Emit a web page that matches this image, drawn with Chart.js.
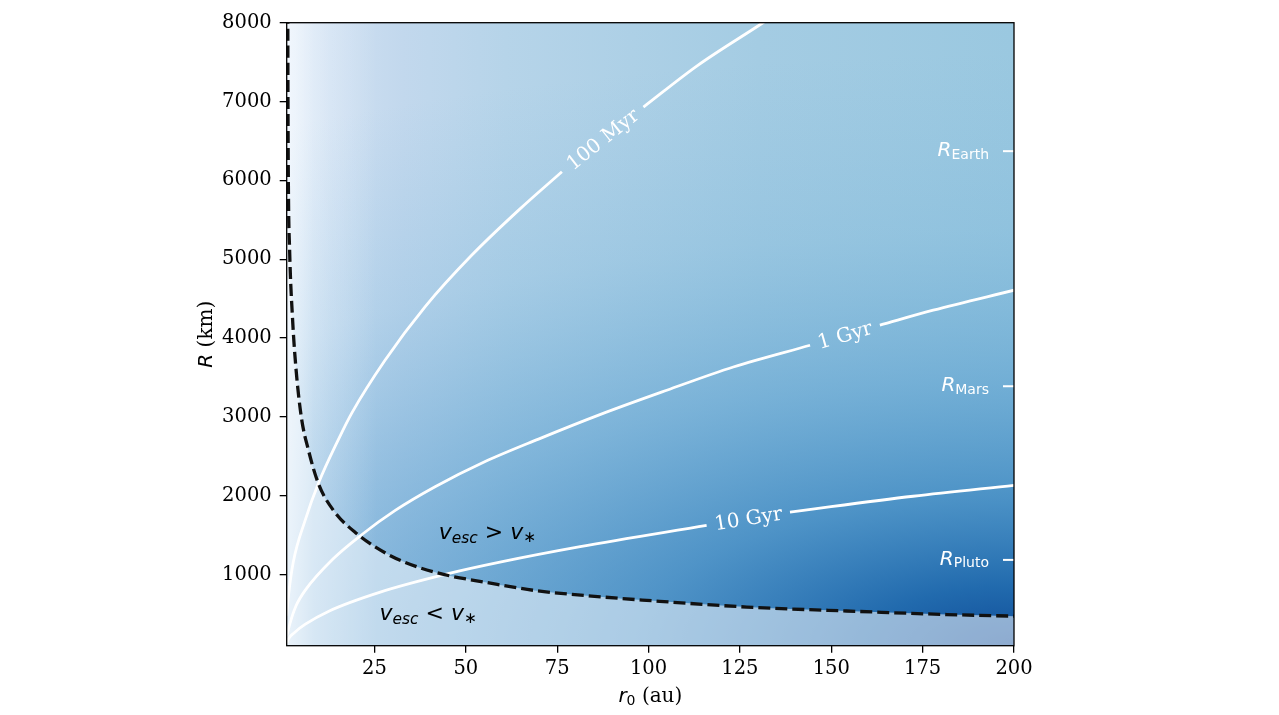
<!DOCTYPE html>
<html>
<head>
<meta charset="utf-8">
<script src="https://cdn.jsdelivr.net/npm/chart.js@4.4.1/dist/chart.umd.min.js"></script>
<style>
  html, body { margin: 0; padding: 0; background: #fff; }
  #wrap { width: 1279px; height: 715px; }
</style>
</head>
<body>
<div id="wrap"><canvas id="grafico" width="1279" height="715"></canvas></div>
<script>
// Ejes
const xTicks = [25, 50, 75, 100, 125, 150, 175, 200];
const yTicks = [1000, 2000, 3000, 4000, 5000, 6000, 7000, 8000];

// Límite v_esc = v_* (línea discontinua)
const limR0 = [1.0, 1.25, 1.3, 1.35, 1.45, 1.8, 2.57, 3.5, 5.0, 6.95, 9.68, 13.8, 20.2, 28.4, 37.0, 45.2, 55.3, 68.9, 88.1, 99.5, 126.9, 154.2, 181.6, 200];
const limR  = [9000, 8400, 8000, 7000, 6000, 5115, 4270, 3635, 3000, 2580, 2155, 1815, 1520, 1265, 1095, 990, 905, 800, 715, 675, 590, 540, 495, 475];

// Contornos de tiempo (null = hueco para la etiqueta)
const r100Myr = [1.0, 1.5, 2.8, 6.04, 9.68, 15.2, 18.8, 27.9, 38.9, 51.6, 64.4, 76.3, 87, 98.6, 113.2, 131.0, 140];
const R100Myr = [480, 740, 1160, 1690, 2160, 2720, 3050, 3720, 4400, 5050, 5620, 6110, null, 6930, 7450, 7990, 8270];

const r1Gyr = [1.0, 2.0, 3.5, 6.04, 13.8, 21.6, 30.7, 41.6, 55.3, 69.9, 86.7, 105, 123.2, 144.2, 153, 163.3, 177.9, 200];
const R1Gyr = [220, 400, 600, 801, 1205, 1510, 1815, 2115, 2435, 2720, 3030, 3339, 3634, 3910, null, 4164, 4354, 4608];

const r10Gyr = [1.0, 1.48, 3, 6, 12.4, 26.6, 45.2, 60, 81.3, 115.9, 127, 138.7, 172.4, 200];
const R10Gyr = [130, 188, 262, 370, 535, 779, 1013, 1165, 1355, 1626, null, 1794, 1995, 2133];

// Radios de referencia
const planetas = ['Earth', 'Mars', 'Pluto'];
const radiosPlanetas = [6371, 3390, 1188];

const contornos = [
  { label: '100 Myr', r: r100Myr, R: R100Myr },
  { label: '1 Gyr', r: r1Gyr, R: R1Gyr },
  { label: '10 Gyr', r: r10Gyr, R: R10Gyr }
];

const aPuntos = (xs, ys) => xs.map((x, i) => ({ x: x, y: ys[i] }));

const SANS = '"DejaVu Sans", sans-serif';
const SERIF = '"DejaVu Serif", serif';

// Texto con partes de distinta fuente (cursiva, subíndice)
function dibujarPartes(ctx, x, y, partes, align) {
  let total = 0;
  partes.forEach(p => { ctx.font = p.font; p.w = ctx.measureText(p.text).width; total += p.w; });
  let cx = align === 'right' ? x - total : align === 'center' ? x - total / 2 : x;
  ctx.textAlign = 'left';
  ctx.textBaseline = 'alphabetic';
  partes.forEach(p => {
    ctx.font = p.font;
    ctx.fillText(p.text, cx, y + (p.dy || 0));
    cx += p.w;
  });
}

// Fondo degradado del mapa
const fondo = {
  id: 'fondo',
  beforeDraw(chart) {
    const { ctx, chartArea: a } = chart;
    const w = a.right - a.left, h = a.bottom - a.top;
    ctx.save();
    ctx.beginPath();
    ctx.rect(a.left, a.top, w, h);
    ctx.clip();

    let g = ctx.createLinearGradient(a.left, 0, a.right, 0);
    g.addColorStop(0, '#e2edf8');
    g.addColorStop(0.06, '#cfe0f2');
    g.addColorStop(0.16, '#c2d8ed');
    g.addColorStop(0.3, '#b6d4e9');
    g.addColorStop(0.65, '#a4cce3');
    g.addColorStop(1, '#9ac8e0');
    ctx.fillStyle = g;
    ctx.fillRect(a.left, a.top, w, h);

    // oscurecer hacia abajo a la derecha
    const ry = 0.95 * h, rx = 2.1 * w;
    ctx.save();
    ctx.translate(a.right, a.bottom);
    ctx.scale(rx / ry, 1);
    const rg = ctx.createRadialGradient(0, 0, 0, 0, 0, ry);
    rg.addColorStop(0, 'rgba(8,69,148,0.95)');
    rg.addColorStop(0.1, 'rgba(20,96,168,0.9)');
    rg.addColorStop(0.25, 'rgba(45,125,188,0.72)');
    rg.addColorStop(0.45, 'rgba(75,150,203,0.5)');
    rg.addColorStop(0.7, 'rgba(105,172,214,0.22)');
    rg.addColorStop(1, 'rgba(120,180,220,0)');
    ctx.fillStyle = rg;
    ctx.fillRect(-w * ry / rx - 2, -h - 2, w * ry / rx + 4, h + 4);
    ctx.restore();

    // borde izquierdo más claro
    g = ctx.createLinearGradient(a.left, 0, a.left + 90, 0);
    g.addColorStop(0, 'rgba(248,251,255,0.7)');
    g.addColorStop(0.3, 'rgba(248,251,255,0.3)');
    g.addColorStop(1, 'rgba(248,251,255,0)');
    ctx.fillStyle = g;
    ctx.fillRect(a.left, a.top, 90, h);
    ctx.restore();
  }
};

// Etiquetas de contornos, radios y regiones
const etiquetas = {
  id: 'etiquetas',
  afterDatasetsDraw(chart) {
    const { ctx, chartArea: a } = chart;
    const xs = chart.scales.x, ys = chart.scales.y;
    ctx.save();

    contornos.forEach(c => {
      const i = c.R.indexOf(null);
      const x1 = xs.getPixelForValue(c.r[i - 1]), y1 = ys.getPixelForValue(c.R[i - 1]);
      const x2 = xs.getPixelForValue(c.r[i + 1]), y2 = ys.getPixelForValue(c.R[i + 1]);
      ctx.save();
      ctx.translate((x1 + x2) / 2, (y1 + y2) / 2);
      ctx.rotate(Math.atan2(y2 - y1, x2 - x1));
      ctx.fillStyle = '#fff';
      ctx.font = '20px ' + SERIF;
      ctx.textAlign = 'center';
      ctx.textBaseline = 'middle';
      ctx.fillText(c.label, 0, 1);
      ctx.restore();
    });

    planetas.forEach((p, i) => {
      const y = ys.getPixelForValue(radiosPlanetas[i]);
      ctx.strokeStyle = '#fff';
      ctx.lineWidth = 2;
      ctx.beginPath();
      ctx.moveTo(a.right - 11, y);
      ctx.lineTo(a.right, y);
      ctx.stroke();
      ctx.fillStyle = '#fff';
      dibujarPartes(ctx, a.right - 25, y + 5, [
        { text: 'R', font: 'italic 20px ' + SANS },
        { text: p, font: '14px ' + SANS, dy: 2.5 }
      ], 'right');
    });

    ctx.fillStyle = '#000';
    const region = (r0, R, signo) => {
      dibujarPartes(ctx, xs.getPixelForValue(r0), ys.getPixelForValue(R), [
        { text: 'v', font: 'italic 22px ' + SANS },
        { text: 'esc', font: 'italic 15.4px ' + SANS, dy: 4 },
        { text: ' ' + signo + ' ', font: '22px ' + SANS },
        { text: 'v', font: 'italic 22px ' + SANS },
        { text: '\u2217', font: '15.4px ' + SANS, dy: 3 }
      ], 'left');
    };
    region(42.6, 1457, '>');
    region(26.4, 420, '<');
    ctx.restore();
  },
  afterDraw(chart) {
    const { ctx, chartArea: a } = chart;
    ctx.save();
    ctx.strokeStyle = '#000';
    ctx.lineWidth = 1.3;
    ctx.strokeRect(a.left, a.top, a.right - a.left, a.bottom - a.top);

    ctx.fillStyle = '#000';
    dibujarPartes(ctx, (a.left + a.right) / 2, 702, [
      { text: 'r', font: 'italic 20px ' + SANS },
      { text: '0', font: '14px ' + SANS, dy: 3 },
      { text: ' (au)', font: '20px ' + SERIF }
    ], 'center');

    ctx.translate(212, (a.top + a.bottom) / 2);
    ctx.rotate(-Math.PI / 2);
    dibujarPartes(ctx, 0, 0, [
      { text: 'R', font: 'italic 20px ' + SANS },
      { text: ' (km)', font: '20px ' + SERIF }
    ], 'center');
    ctx.restore();
  }
};

const lineaBlanca = (r, R) => ({
  data: aPuntos(r, R),
  borderColor: '#ffffff',
  borderWidth: 2.8,
  pointRadius: 0,
  fill: false,
  spanGaps: false,
  cubicInterpolationMode: 'monotone',
  order: 1
});

const tickFont = { family: 'DejaVu Serif', size: 19.5 };

new Chart(document.getElementById('grafico').getContext('2d'), {
  type: 'line',
  data: {
    datasets: [
      {
        data: aPuntos(limR0, limR),
        borderColor: '#111',
        borderWidth: 3.3,
        borderDash: [12, 5],
        pointRadius: 0,
        cubicInterpolationMode: 'monotone',
        fill: 'start',
        backgroundColor: 'rgba(246,249,253,0.55)',
        order: 0
      },
      lineaBlanca(r100Myr, R100Myr),
      lineaBlanca(r1Gyr, R1Gyr),
      lineaBlanca(r10Gyr, R10Gyr)
    ]
  },
  options: {
    responsive: false,
    animation: false,
    layout: { padding: { left: 0, top: 22.7, right: 265, bottom: 0 } },
    plugins: {
      legend: { display: false },
      tooltip: { enabled: false },
      filler: { drawTime: 'beforeDatasetsDraw' }
    },
    scales: {
      x: {
        type: 'linear',
        min: 1,
        max: 200,
        afterBuildTicks: s => { s.ticks = xTicks.map(v => ({ value: v })); },
        afterFit: s => { s.height = 69.3; },
        ticks: { font: tickFont, color: '#000', padding: 5, callback: v => String(v) },
        grid: { display: true, drawOnChartArea: false, drawTicks: true, tickLength: 7, color: '#000', lineWidth: 1.3 },
        border: { display: false }
      },
      y: {
        type: 'linear',
        min: 100,
        max: 8000,
        afterBuildTicks: s => { s.ticks = yTicks.map(v => ({ value: v })); },
        afterFit: s => { s.width = 286.7; },
        ticks: { font: tickFont, color: '#000', padding: 8, callback: v => String(v) },
        grid: { display: true, drawOnChartArea: false, drawTicks: true, tickLength: 7, color: '#000', lineWidth: 1.3 },
        border: { display: false }
      }
    }
  },
  plugins: [fondo, etiquetas]
});
</script>
</body>
</html>
